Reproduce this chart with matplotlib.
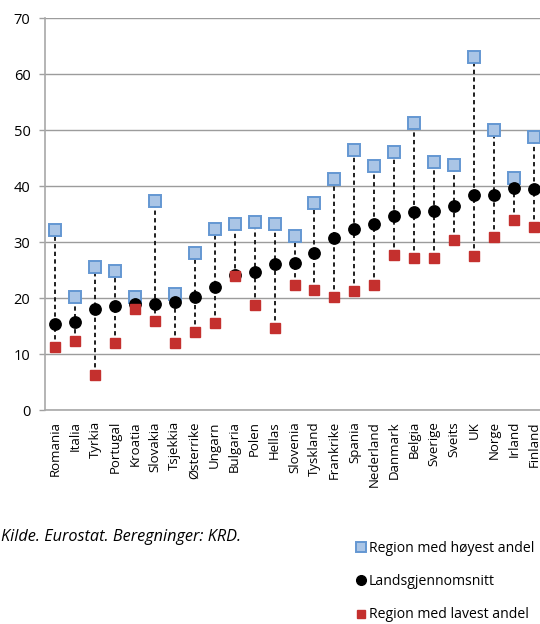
import matplotlib
matplotlib.use("Agg")
import matplotlib.pyplot as plt

countries = ["Romania", "Italia", "Tyrkia", "Portugal", "Kroatia", "Slovakia", "Tsjekkia",
             "Østerrike", "Ungarn", "Bulgaria", "Polen", "Hellas", "Slovenia", "Tyskland",
             "Frankrike", "Spania", "Nederland", "Danmark", "Belgia", "Sverige", "Sveits",
             "UK", "Norge", "Irland", "Finland"]
highest = [32.1, 20.1, 25.6, 24.9, 20.2, 37.3, 20.8, 28.0, 32.3, 33.2, 33.5, 33.2, 31.1,
           36.9, 41.2, 46.4, 43.5, 46.0, 51.2, 44.2, 43.8, 63.0, 50.0, 41.5, 48.8]
average = [15.3, 15.7, 18.0, 18.5, 18.9, 19.0, 19.3, 20.1, 22.0, 24.1, 24.6, 26.1, 26.2,
           28.0, 30.8, 32.4, 33.2, 34.6, 35.4, 35.6, 36.5, 38.4, 38.4, 39.6, 39.5]
lowest = [11.3, 12.4, 6.2, 11.9, 18.0, 15.9, 11.9, 14.0, 15.6, 24.0, 18.8, 14.6, 22.3,
          21.4, 20.2, 21.3, 22.3, 27.7, 27.2, 27.2, 30.4, 27.5, 30.9, 33.9, 32.7]
yticks = [0, 10, 20, 30, 40, 50, 60, 70]
labels = ["Region med høyest andel", "Landsgjennomsnitt", "Region med lavest andel"]
source = "Kilde. Eurostat. Beregninger: KRD."

plt.rcParams['font.family'] = ['Open Sans', 'DejaVu Sans']

fig = plt.figure(figsize=(5.4, 6.24), dpi=100)
ax = fig.add_axes([45/540, 214/624, 499/540, 392/624])

x = list(range(len(countries)))
ax.vlines(x, lowest, highest, colors="#1e1e1e", linestyles=(0, (2.2, 1.7)), linewidth=1.4, zorder=2)
h1, = ax.plot(x, highest, linestyle="none", marker="s", markersize=8,
              markerfacecolor="#aac5e6", markeredgecolor="#6497d2", markeredgewidth=1.4, zorder=3)
h2, = ax.plot(x, average, linestyle="none", marker="o", markersize=8.2,
              color="black", zorder=4)
h3, = ax.plot(x, lowest, linestyle="none", marker="s", markersize=7,
              markerfacecolor="#c4302e", markeredgecolor="#c4302e", zorder=5)

ax.set_xlim(-0.5, len(countries) - 0.5)
ax.set_ylim(0, 70)
ax.set_yticks(yticks)
ax.set_yticklabels([str(v) for v in yticks], fontsize=10.5)
ax.set_xticks(x)
ax.set_xticklabels(countries, rotation=90, fontsize=9.5, va="top", ha="center")
ax.tick_params(axis="x", length=0, pad=8)
ax.tick_params(axis="y", length=4.5, width=1, color="#a0a0a0", pad=6)
ax.grid(axis="y", color="#9c9c9c", linewidth=1)
ax.set_axisbelow(True)
for s in ["top", "right"]:
    ax.spines[s].set_visible(False)
for s in ["left", "bottom"]:
    ax.spines[s].set_color("#a8a8a8")
    ax.spines[s].set_linewidth(1.2)

fig.text(1/540, 1 - 537/624, source, fontsize=11.7, style="italic", va="center", ha="left")

fig.legend([h1, h2, h3], labels, loc="upper left", bbox_to_anchor=(357/540, 1 - 541/624),
           frameon=False, fontsize=10.1, handlelength=0.55, handletextpad=0.3,
           labelspacing=1.3, borderaxespad=0, borderpad=0, markerscale=0.85)

fig.savefig("out.png", dpi=100)
